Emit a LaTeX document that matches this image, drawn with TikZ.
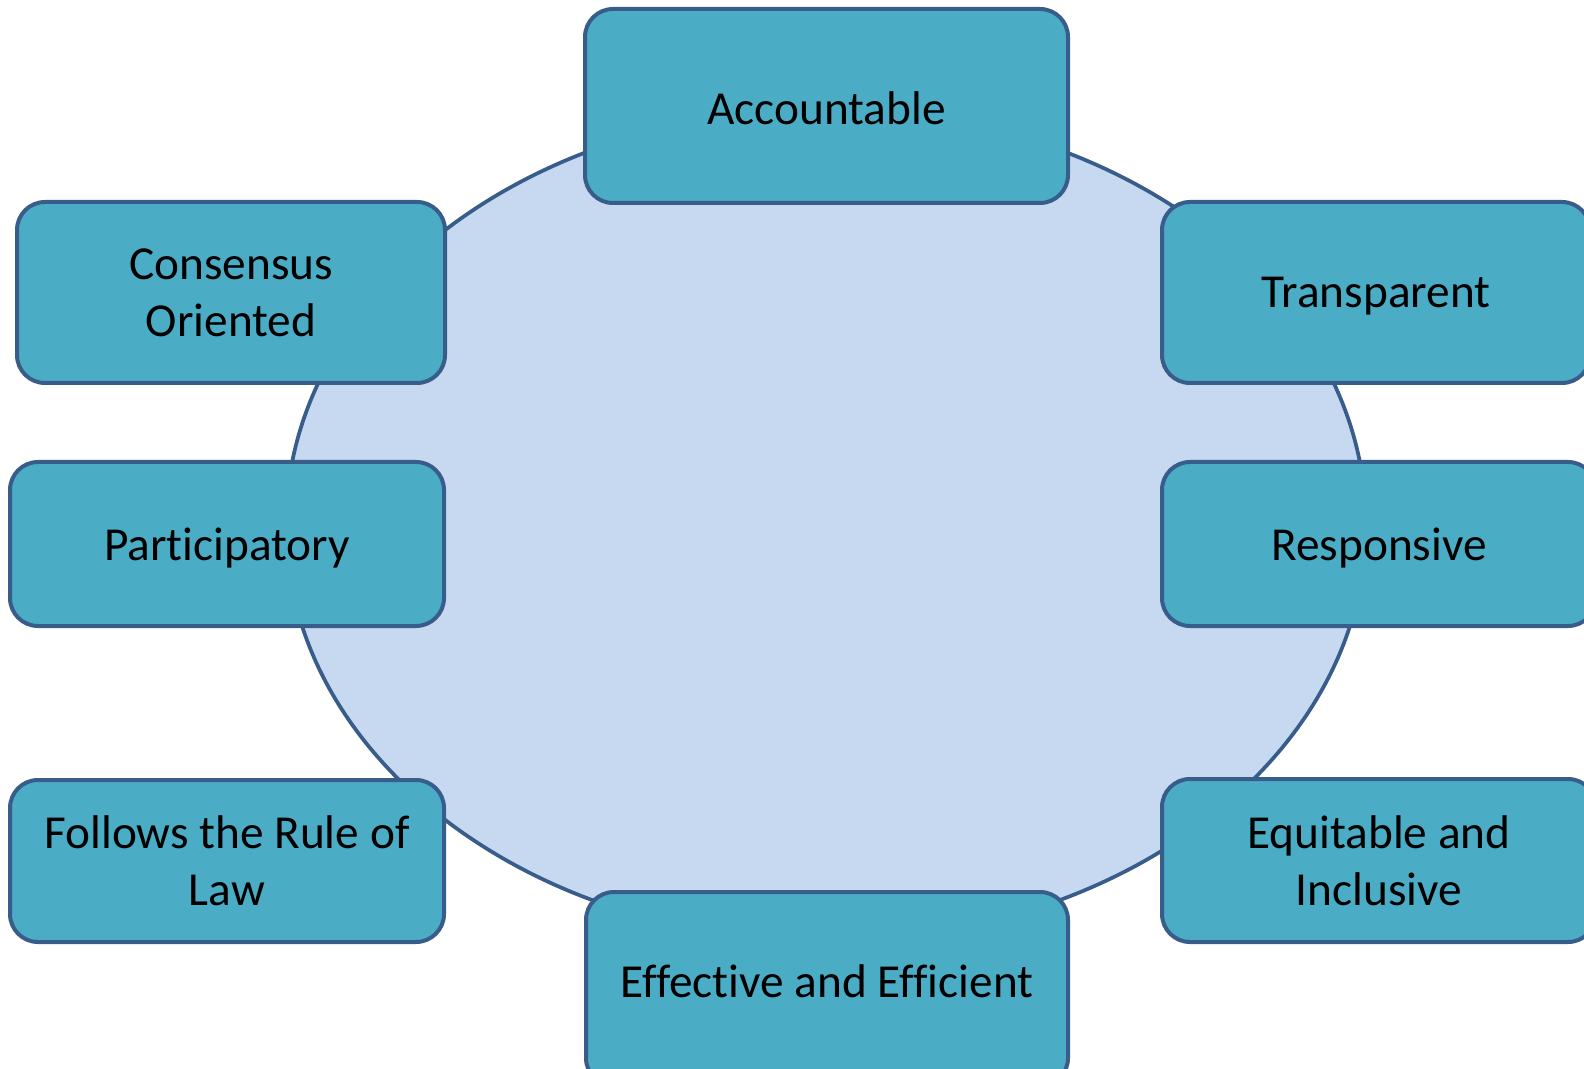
\documentclass[tikz,border=0pt]{standalone}
\usepackage{fontspec}
\setmainfont{Carlito}[Ligatures=NoCommon]
\definecolor{boxfill}{HTML}{4BACC6}
\definecolor{ellfill}{HTML}{C6D9F1}
\definecolor{edge}{HTML}{385D8A}
\newcommand\txtlift[2]{\raisebox{#1}[\height][\depth]{#2}}
\begin{document}
\begin{tikzpicture}[x=0.75pt,y=-0.75pt,
  box/.style={draw=edge, fill=boxfill, line width=3pt, rounded corners=21pt,
    align=center, text=black, inner sep=0pt,
    font=\fontsize{35.5}{42.7}\selectfont}]
\useasboundingbox (0,0) rectangle (1584,1069);
\clip (0,0) rectangle (1584,1069);
\draw[draw=edge, fill=ellfill, line width=2.8pt] (826,525) ellipse [x radius=540, y radius=416];
\node[box, minimum width=362.25pt, minimum height=145.5pt] (acc) at (826.5,106) {\txtlift{-1.5pt}{Accountable}};
\node[box, minimum width=321pt, minimum height=135.75pt] (con) at (231,292.5) {Consensus\\Oriented};
\node[box, minimum width=321pt, minimum height=135.75pt] (tra) at (1376,292.5) {\txtlift{-3pt}{Transparent}};
\node[box, minimum width=325.5pt, minimum height=123pt] (par) at (227,544) {\txtlift{-3pt}{Participatory}};
\node[box, minimum width=325.5pt, minimum height=123pt] (res) at (1379,544) {\txtlift{-3pt}{Responsive}};
\node[box, minimum width=325.5pt, minimum height=121.5pt] (rul) at (227,861) {Follows the Rule of\\Law};
\node[box, minimum width=325.5pt, minimum height=122.25pt] (equ) at (1379,860.5) {Equitable and\\Inclusive};
\node[box, minimum width=361.5pt, minimum height=145.5pt] (eff) at (827,989) {\txtlift{6pt}{Effective and Efficient}};
\end{tikzpicture}
\end{document}
